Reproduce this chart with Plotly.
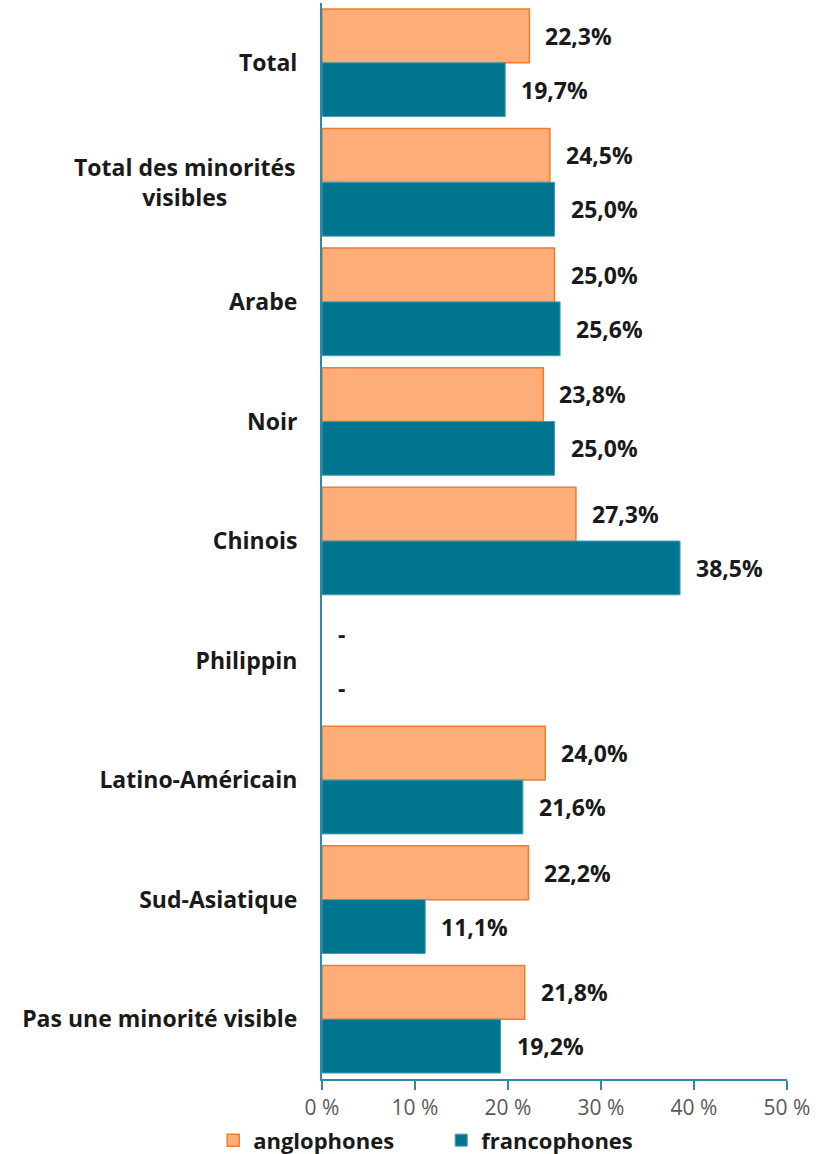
import plotly.graph_objects as go

categories = ["Total", "Total des minorités visibles", "Arabe", "Noir", "Chinois",
              "Philippin", "Latino-Américain", "Sud-Asiatique", "Pas une minorité visible"]
category_labels = ["Total", "Total des minorités<br>visibles", "Arabe", "Noir", "Chinois",
                   "Philippin", "Latino-Américain", "Sud-Asiatique", "Pas une minorité visible"]
anglophones = [22.3, 24.5, 25.0, 23.8, 27.3, None, 24.0, 22.2, 21.8]
francophones = [19.7, 25.0, 25.6, 25.0, 38.5, None, 21.6, 11.1, 19.2]
tick_vals = [0, 10, 20, 30, 40, 50]
tick_text = ["0 %", "10 %", "20 %", "30 %", "40 %", "50 %"]

def lab(v):
    return "-" if v is None else f"{v:.1f}%".replace(".", ",")

FONT = "Open Sans"
TXT = "#1a1a1a"
fig = go.Figure()
fig.add_trace(go.Bar(name="anglophones", y=categories, x=anglophones, orientation="h",
                     marker=dict(color="#FCAD78", line=dict(color="#F37B2B", width=1.5))))
fig.add_trace(go.Bar(name="francophones", y=categories, x=francophones, orientation="h",
                     marker=dict(color="#00758F", line=dict(color="#4A9DB3", width=1))))

annotations = []
for vals, shift in ((anglophones, 27), (francophones, -27)):
    for c, v in zip(categories, vals):
        annotations.append(dict(x=v or 0, y=c, xref="x", yref="y", text=lab(v), showarrow=False,
                                xanchor="left", yanchor="middle", xshift=14, yshift=shift,
                                font=dict(family=FONT, size=23, color=TXT, weight="bold")))

ticktext = []
for c, l in zip(categories, category_labels):
    if "<br>" in l:
        ticktext.append("")
        annotations.append(dict(x=0, y=c, xref="x", yref="y", text=l, showarrow=False,
                                xanchor="right", yanchor="middle", xshift=-25, align="center",
                                font=dict(family=FONT, size=23, color=TXT, weight="bold")))
    else:
        ticktext.append(l)

fig.update_layout(
    width=816, height=1154,
    margin=dict(l=322, r=29, t=3, b=75, autoexpand=False),
    paper_bgcolor="white", plot_bgcolor="white",
    barmode="group", bargap=0.1, bargroupgap=0,
    annotations=annotations,
    showlegend=True,
    legend=dict(orientation="h", x=-0.234, xanchor="left", y=-0.057, yanchor="middle",
                font=dict(family=FONT, size=22, color=TXT, weight="bold"),
                traceorder="normal", itemwidth=30, entrywidth=183),
    xaxis=dict(range=[0, 50], tickvals=tick_vals, ticktext=tick_text, showgrid=False, zeroline=False,
               showline=True, linecolor="#2E8AA6", linewidth=1.5, ticks="outside", ticklen=9,
               tickcolor="#2E8AA6", tickwidth=1.5, automargin=False,
               tickfont=dict(family=FONT, size=21, color="#595959")),
    yaxis=dict(autorange="reversed", showgrid=False, zeroline=False, showline=True,
               linecolor="#2E8AA6", linewidth=2, ticks="", ticklabelstandoff=18, automargin=False,
               tickmode="array", tickvals=categories, ticktext=ticktext,
               tickfont=dict(family=FONT, size=23, color=TXT, weight="bold")),
)
fig.write_html("out.html", config={"displayModeBar": False},
               post_script="document.body.style.margin='0';")
